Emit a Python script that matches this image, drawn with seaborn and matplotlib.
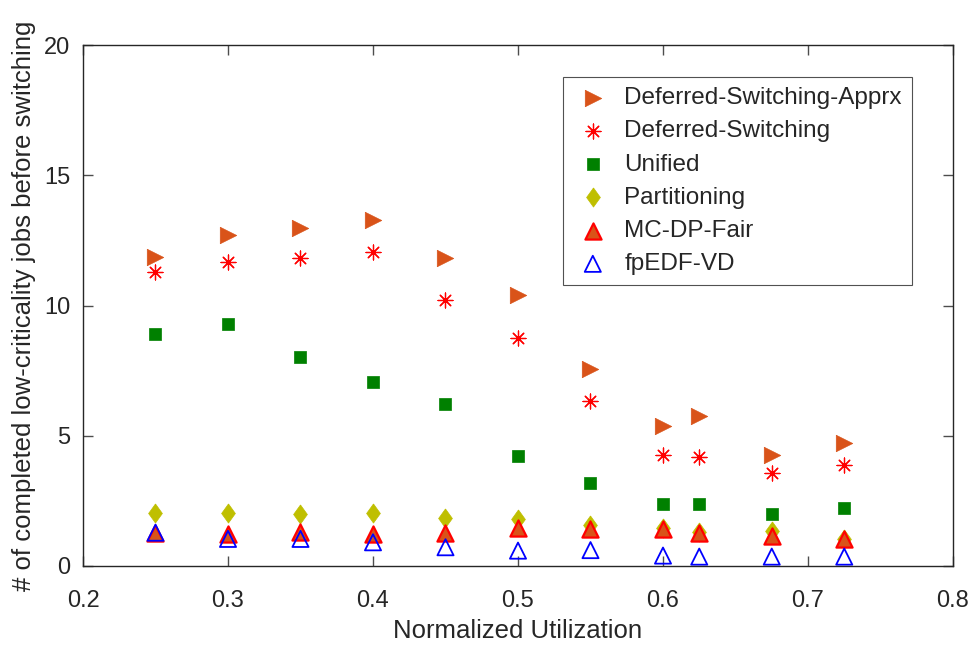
import numpy as np
import pandas as pd
import matplotlib
matplotlib.use("Agg")
import matplotlib.pyplot as plt
import seaborn as sns

# utilization points on the x axis
utilization = [0.25, 0.3, 0.35, 0.4, 0.45, 0.5, 0.55, 0.6, 0.625, 0.675, 0.725]

# completed low-criticality jobs before switching, per scheme
ds_apprx = [11.87, 12.70, 12.96, 13.28, 11.81, 10.41, 7.58, 5.37, 5.77, 4.28, 4.71]
ds = [11.30, 11.66, 11.81, 12.07, 10.22, 8.76, 6.35, 4.26, 4.17, 3.56, 3.88]
unified = [8.89, 9.28, 8.01, 7.05, 6.22, 4.22, 3.20, 2.37, 2.37, 1.98, 2.24]
partitioning = [2.05, 2.05, 1.99, 2.05, 1.86, 1.81, 1.58, 1.47, 1.29, 1.36, 1.02]
mc_dp_fair = [1.28, 1.23, 1.29, 1.23, 1.28, 1.47, 1.41, 1.41, 1.28, 1.15, 1.02]
fpedf_vd = [1.28, 1.04, 1.04, 0.91, 0.72, 0.59, 0.61, 0.40, 0.36, 0.36, 0.36]

series_names = ["Deferred-Switching-Apprx", "Deferred-Switching", "Unified",
                "Partitioning", "MC-DP-Fair", "fpEDF-VD"]
series_vals = [ds_apprx, ds, unified, partitioning, mc_dp_fair, fpedf_vd]

df = pd.DataFrame({
    "util": np.tile(utilization, len(series_names)),
    "jobs": np.concatenate(series_vals),
    "scheme": np.repeat(series_names, len(utilization)),
})

sns.set_style("ticks")
plt.rcParams["font.family"] = ["Liberation Sans", "DejaVu Sans"]

diamond = [(0, 1), (0.72, 0), (0, -1), (-0.72, 0), (0, 1)]
styles = {
    "Deferred-Switching-Apprx": dict(marker=">", s=140, color="#D95319", edgecolor="#D95319", linewidth=0.5),
    "Deferred-Switching": dict(marker=(8, 2, 0), s=115, color="#FF0000", linewidth=0.9),
    "Unified": dict(marker="s", s=80, color="#008000", edgecolor="#008000", linewidth=0.5),
    "Partitioning": dict(marker=diamond, s=190, color="#BFBF00", edgecolor="#BFBF00", linewidth=0.5),
    "MC-DP-Fair": dict(marker="^", s=135, color="#D95319", edgecolor="#FF0000", linewidth=1.6),
    "fpEDF-VD": dict(marker="^", s=135, facecolor="none", edgecolor="#0000FF", linewidth=1.3),
}

fig = plt.figure(figsize=(9.74, 6.45), dpi=100)
ax = fig.add_axes([83 / 974, 1 - 566 / 645, 870 / 974, 521 / 645])

for name in series_names:
    sub = df[df["scheme"] == name]
    sns.scatterplot(data=sub, x="util", y="jobs", ax=ax, label=name, **styles[name])

ax.set_xlim(0.2, 0.8)
ax.set_ylim(0, 20)
ax.set_xticks(np.arange(0.2, 0.81, 0.1))
ax.set_xticklabels(["0.2", "0.3", "0.4", "0.5", "0.6", "0.7", "0.8"])
ax.set_yticks([0, 5, 10, 15, 20])
ax.set_xlabel("Normalized Utilization", fontsize=18.5, color="#262626", labelpad=5)
ax.set_ylabel("# of completed low-criticality jobs before switching", fontsize=18.5,
              color="#262626", labelpad=6)

for side in ["top", "right", "bottom", "left"]:
    ax.spines[side].set_visible(True)
    ax.spines[side].set_color("#262626")
    ax.spines[side].set_linewidth(1.0)
ax.tick_params(direction="in", length=7, width=1.0, colors="#4d4d4d",
               labelcolor="#262626", labelsize=17, top=True, right=True, pad=9)
ax.tick_params(axis="x", pad=17)

leg = ax.legend(loc="upper right", bbox_to_anchor=(0.953, 0.9386), fontsize=17.5,
                frameon=True, fancybox=False, edgecolor="#262626",
                borderpad=0.42, labelspacing=0.46, handletextpad=0.5,
                handlelength=1.6, borderaxespad=0)
leg.get_frame().set_linewidth(0.8)

fig.savefig("out.png", dpi=100)
